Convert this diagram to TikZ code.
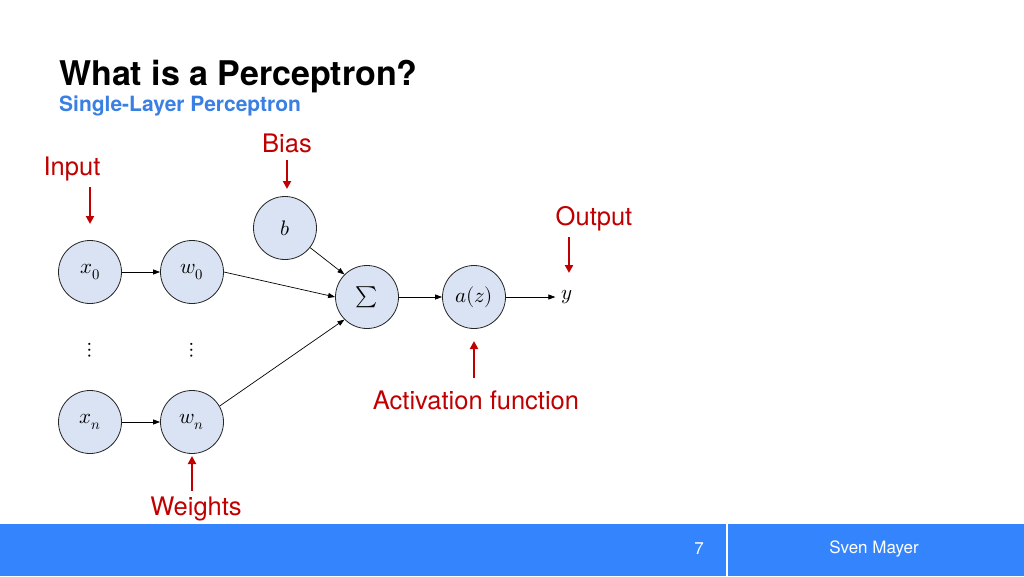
\documentclass[tikz,border=0pt]{standalone}
\usepackage{fontspec}
\usepackage{unicode-math}
\setmainfont{TeX Gyre Heros}
\setmathfont{Latin Modern Math}
\usetikzlibrary{arrows.meta}
\definecolor{nodefill}{HTML}{DAE3F3}
\definecolor{redlab}{HTML}{C00000}
\definecolor{barblue}{HTML}{3485FD}
\definecolor{subblue}{HTML}{3A7FE3}
\begin{document}
\begin{tikzpicture}[x=1pt,y=-1pt,
  neuron/.style={circle,draw=black!85,line width=0.8pt,fill=nodefill,minimum size=63pt,inner sep=0pt,font=\fontsize{21}{23}\selectfont},
  conn/.style={-{Triangle[length=7pt,width=5pt]},line width=0.7pt,black},
  redarrow/.style={-{Triangle[length=8pt,width=8pt]},line width=2.4pt,redlab},
  redlabel/.style={text=redlab,font=\fontsize{25.5}{28}\selectfont,inner sep=0pt},
  plain/.style={inner sep=0pt,font=\fontsize{21}{23}\selectfont}]
\useasboundingbox (0,0) rectangle (1024,576);
\fill[white] (0,0) rectangle (1024,576);
% title
\node[anchor=base west,inner sep=0pt,font=\fontsize{34}{38}\selectfont\bfseries] (title) at (59,85) {What is a Perceptron?};
\node[anchor=base west,inner sep=0pt,text=subblue,font=\fontsize{21}{24}\selectfont\bfseries] (subtitle) at (59,111) {Single-Layer Perceptron};
% nodes
\node[neuron] (x0) at (90,272) {$x_0$};
\node[neuron] (w0) at (192,272) {$w_0$};
\node[neuron] (xn) at (90,422) {$x_n$};
\node[neuron] (wn) at (192,422) {$w_n$};
\node[neuron] (b) at (285,228) {$b$};
\node[neuron] (sum) at (367,297) {$\sum$};
\node[neuron] (act) at (474,297) {$a(z)$};
\node[plain,inner xsep=6pt] (y) at (567,297) {$y$};
\node[plain] (d1) at (90,350) {$\vdots$};
\node[plain] (d2) at (192,350) {$\vdots$};
% connectors
\draw[conn] (x0) -- (w0);
\draw[conn] (xn) -- (wn);
\draw[conn] (w0.east) -- (sum.west);
\draw[conn] (wn.30) -- (sum.225);
\draw[conn] (b) -- (sum.135);
\draw[conn] (sum) -- (act);
\draw[conn] (act) -- (y.west);
% red labels
\node[redlabel] (lin) at (72,169) {Input};
\node[redlabel] (lbias) at (287,143) {Bias};
\node[redlabel] (lout) at (594,219) {Output};
\node[redlabel] (lact) at (476,400) {Activation function};
\node[redlabel] (lw) at (196,509) {Weights};
\coordinate (inA) at (90,187);
\coordinate (inB) at (90,224);
\coordinate (biA) at (287,160);
\coordinate (biB) at (287,189);
\coordinate (ouA) at (569,237);
\coordinate (ouB) at (569,273);
\coordinate (acA) at (474,378);
\coordinate (acB) at (474,341);
\coordinate (weA) at (192,491);
\coordinate (weB) at (192,456);
\draw[redarrow] (inA) -- (inB);
\draw[redarrow] (biA) -- (biB);
\draw[redarrow] (ouA) -- (ouB);
\draw[redarrow] (acA) -- (acB);
\draw[redarrow] (weA) -- (weB);
% footer
\fill[barblue] (0,524) rectangle (1024,576);
\draw[white,line width=1.2pt] (727,524) -- (727,576);
\node[text=white,font=\fontsize{17}{19}\selectfont] (page) at (699,549) {7};
\node[text=white,font=\fontsize{17}{19}\selectfont] (author) at (874,549) {Sven Mayer};
\end{tikzpicture}
\end{document}
